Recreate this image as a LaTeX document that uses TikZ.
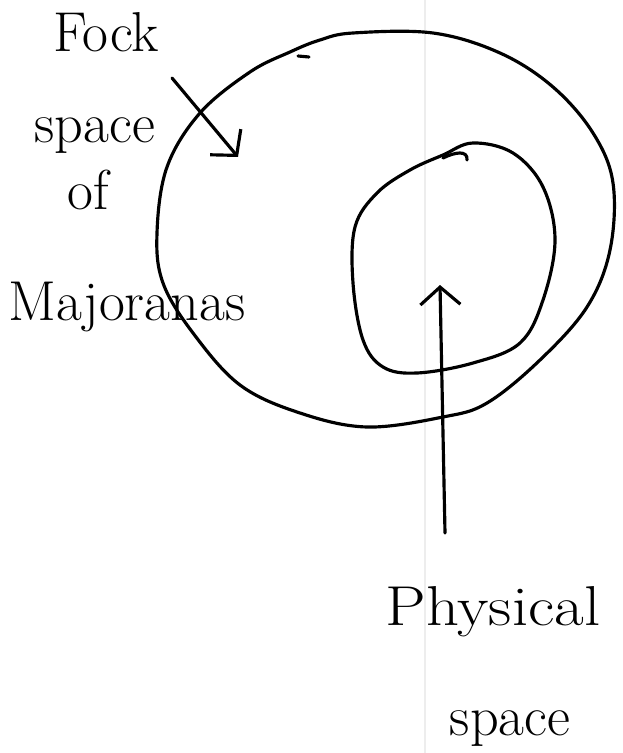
\documentclass[tikz,border=0pt]{standalone}
\usepackage{tikz}
\usetikzlibrary{arrows.meta, positioning, calc}

\tikzset{
    pen/.style={line width=1.8pt, line cap=round, line join=round},
    handarrow/.style={pen, -{Straight Barb[length=3.5mm, width=8mm, line width=1.8pt]}},
    word/.style={anchor=base, inner sep=0pt, font=\fontsize{32}{36}\selectfont}
}

\begin{document}
\begin{tikzpicture}[x=0.02cm, y=-0.02cm]

    % Page (pixel coordinates, y downwards)
    \useasboundingbox (0,0) rectangle (622,753);
    \draw[black!7, line width=1pt] (425,0) -- (425,753);

    % --- Outer loop: Fock space ---
    \draw[pen] plot[smooth cycle, tension=0.6] coordinates {
        (320,40) (353,33) (433,33) (500,53) (553,87) (593,133) (613,183)
        (610,250) (587,307) (540,360) (487,403) (443,417) (367,427) (300,413)
        (240,385) (193,333) (163,283) (157,233) (167,167) (200,113) (250,72) (290,52)};
    \draw[pen] (298,56) -- (309,57);

    % --- Inner loop: physical space ---
    \draw[pen] plot[smooth cycle, tension=0.6] coordinates {
        (473,143) (513,153) (543,187) (555,240) (543,300) (520,343) (473,363)
        (417,373) (383,367) (363,340) (353,283) (355,227) (377,193) (410,170) (443,155)};
    \draw[pen] (443,158) .. controls (455,152) and (468,150) .. (467,160);

    % Labels
    \node[word] (fock)  at (106,52)  {Fock};
    \node[word] (space) at (95,143)  {space};
    \node[word] (of)    at (88,210)  {of};
    \node[word] (major) at (127,320) {Majoranas};

    \node[word, xscale=1.15] (phys) at (493,625) {Physical};
    \node[word] (pspace) at (510,735) {space};

    % Arrows
    \coordinate (fstart) at (172,78);
    \coordinate (ftip)   at (238,157);
    \draw[handarrow] (fstart) -- (ftip);

    \coordinate (pstart) at (445,533);
    \coordinate (ptip)   at (440,285);
    \draw[handarrow] (pstart) -- (ptip);

\end{tikzpicture}
\end{document}
